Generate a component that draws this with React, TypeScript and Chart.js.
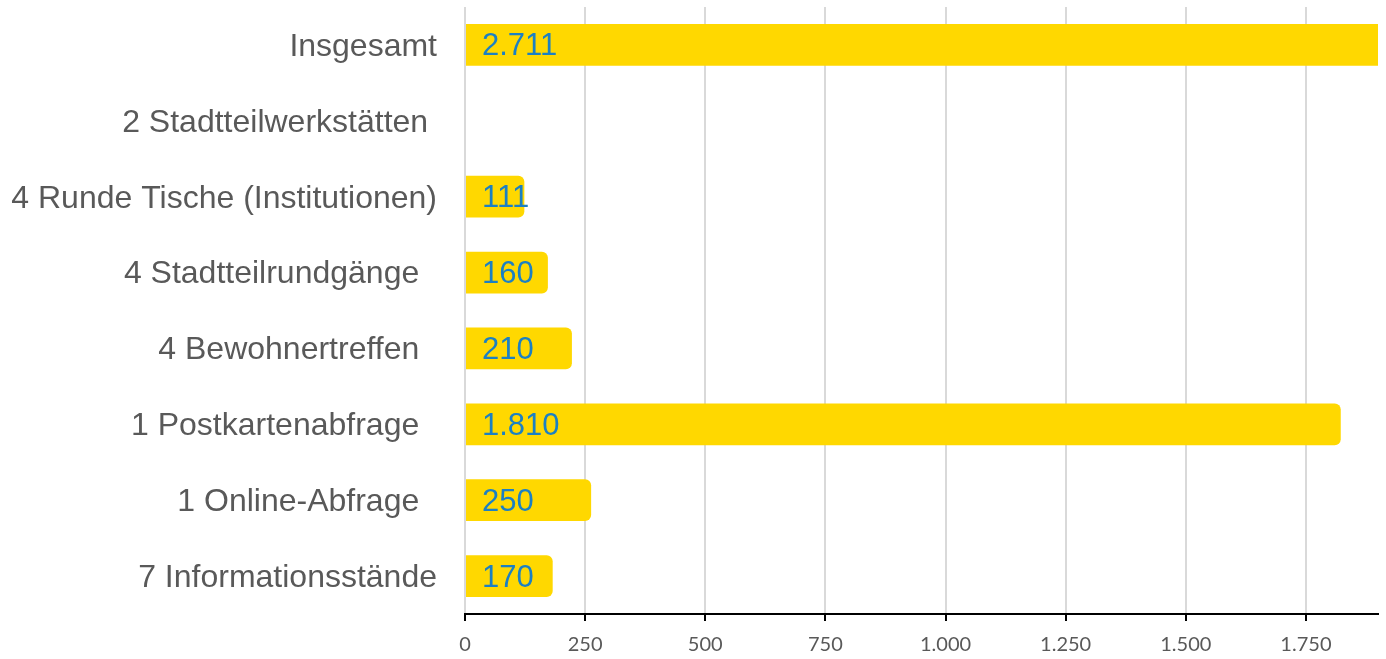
import React, { useEffect, useRef } from "react";
import { Chart, registerables } from "chart.js";

Chart.register(...registerables);

const categories = [
  "Insgesamt",
  "2 Stadtteilwerkstätten ",
  "4 Runde Tische (Institutionen)",
  "4 Stadtteilrundgänge  ",
  "4 Bewohnertreffen  ",
  "1 Postkartenabfrage  ",
  "1 Online-Abfrage  ",
  "7 Informationsstände",
];
const values: (number | null)[] = [2711, null, 111, 160, 210, 1810, 250, 170];
const axisMax = 1900;
const tickStep = 250;

function fmtDE(n: number): string {
  const s = Math.round(n).toString();
  return s.replace(/\B(?=(\d{3})+(?!\d))/g, ".");
}

// bars in the reference overshoot their value slightly (outline effect)
const barOvershoot = {
  id: "barOvershoot",
  afterDatasetsUpdate(chart: any) {
    const meta = chart.getDatasetMeta(0);
    meta.data.forEach((bar: any, i: number) => {
      if (values[i] === null || values[i] === undefined) return;
      bar.x = bar.x + 6;
    });
  },
};

const valueLabels = {
  id: "valueLabels",
  afterDatasetsDraw(chart: any) {
    const ctx = chart.ctx;
    const meta = chart.getDatasetMeta(0);
    ctx.save();
    ctx.font = '31px "Liberation Sans", Arial, sans-serif';
    ctx.fillStyle = "#1C80C3";
    ctx.textAlign = "left";
    ctx.textBaseline = "middle";
    meta.data.forEach((bar: any, i: number) => {
      const v = values[i];
      if (v === null || v === undefined) return;
      ctx.fillText(fmtDE(v), bar.base + 16, bar.y + 2);
    });
    ctx.restore();
  },
};

export default function App() {
  const ref = useRef<HTMLCanvasElement>(null);
  useEffect(() => {
    if (!ref.current) return;
    const chart = new Chart(ref.current, {
      type: "bar",
      data: {
        labels: categories,
        datasets: [
          {
            data: values as any,
            backgroundColor: "#FFD800",
            borderRadius: 6,
            borderSkipped: "start",
            barPercentage: 0.55,
            categoryPercentage: 1,
          },
        ],
      },
      options: {
        indexAxis: "y",
        animation: false,
        responsive: true,
        maintainAspectRatio: false,
        layout: { padding: { top: 7, right: 8, bottom: -10, left: 0 } },
        plugins: { legend: { display: false }, tooltip: { enabled: false } },
        scales: {
          x: {
            min: 0,
            max: axisMax,
            grid: {
              color: "#D9D9D9",
              lineWidth: 2,
              drawTicks: true,
              tickLength: 7,
              tickColor: "#000000",
              tickWidth: 2,
            },
            border: { display: true, color: "#000000", width: 2 },
            ticks: {
              stepSize: tickStep,
              includeBounds: false,
              color: "#595959",
              font: { family: "Lato", size: 20 },
              padding: 12,
              callback: (v: any) => fmtDE(Number(v)),
            },
          },
          y: {
            grid: { display: false, drawTicks: false },
            border: { display: false },
            ticks: {
              color: "#595959",
              font: { family: '"Liberation Sans", Arial, sans-serif', size: 32 },
              padding: 28,
              crossAlign: "near",
              labelOffset: 2,
            },
            afterFit: (scale: any) => {
              scale.width = 465;
              scale.paddingTop = 0;
              scale.paddingBottom = 0;
            },
          },
        },
      },
      plugins: [barOvershoot, valueLabels],
    });
    return () => chart.destroy();
  }, []);
  return (
    <div style={{ position: "fixed", left: 0, top: 0, width: 1386, height: 659 }}>
      <canvas ref={ref} />
    </div>
  );
}
